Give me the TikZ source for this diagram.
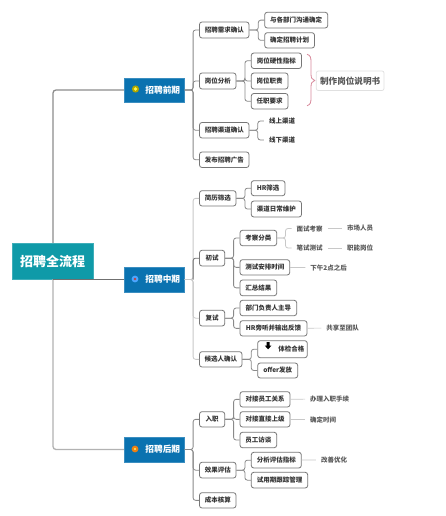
\documentclass[tikz,border=0pt]{standalone}
\usepackage{fontspec}
\setmainfont{Noto Sans CJK SC}
\definecolor{rootc}{HTML}{0F9AA8}
\definecolor{phasec}{HTML}{0A72B0}
\definecolor{linec}{HTML}{8A8A8A}
\definecolor{lightl}{HTML}{C8C8C8}
\definecolor{darkl}{HTML}{707070}
\definecolor{boxb}{HTML}{777777}
\definecolor{braceC}{HTML}{D88A9C}
\tikzset{
  rootbox/.style={fill=rootc,draw=rootc!80!white,line width=.4pt,inner sep=0pt,text=white,font=\fontsize{13}{15}\selectfont\bfseries},
  phasebox/.style={fill=phasec,draw=phasec!80!white,line width=.4pt,inner sep=0pt,text=white,font=\fontsize{8.7}{10}\selectfont\bfseries},
  itembox/.style={draw=boxb,fill=white,line width=.8pt,rounded corners=2.5pt,inner sep=0pt,text=black!80,font=\fontsize{6.5}{8}\selectfont\bfseries},
  notebox/.style={draw=black!12,fill=white,line width=.7pt,rounded corners=2pt,inner sep=0pt,text=black!65,font=\fontsize{8.6}{10}\selectfont\bfseries},
  leaftext/.style={inner xsep=5pt,inner ysep=1pt,text=black!65,font=\fontsize{6.5}{8}\selectfont\bfseries},
  leafdark/.style={leaftext,text=black!80},
  conn/.style={draw=linec,line width=.8pt,rounded corners=2.5pt},
  connlight/.style={conn,draw=lightl},
  conndark/.style={conn,draw=darkl},
  tail/.style={draw=lightl,line width=.7pt},
  trunk/.style={draw=black!45,line width=1.3pt,rounded corners=3pt},
  trunklight/.style={trunk,draw=black!30},
}
\newcommand{\nbx}[7][itembox]{\node[#1,minimum width={(#5-#3)*1pt},minimum height={(#6-#4)*1pt}] (#2) at ({(#3+#5)/2},{(#4+#6)/2}) {#7};}
\newcommand{\brn}[3][conn]{\draw[#1] (#2.east) -- ([xshift=-6pt]#3.west |- #2.east) |- (#3.west);}
\begin{document}
\begin{tikzpicture}[x=1pt,y=-1pt]
\useasboundingbox (0,0) rectangle (445,516);
\fill[white] (0,0) rectangle (445,516);
% root and phases
\nbx[rootbox]{root}{12}{243}{93}{279}{招聘全流程}
\nbx[phasebox]{pa}{124}{78}{184.5}{102}{\hspace{17pt}招聘前期}
\nbx[phasebox]{pb}{124}{267}{184.5}{292}{\hspace{17pt}招聘中期}
\nbx[phasebox]{pc}{124}{437}{184.5}{462}{\hspace{17pt}招聘后期}
\coordinate (sp) at (53,0);
\draw[trunk] (root.north -| sp) |- (pa.west);
\draw[trunklight] (root.south -| sp) |- (pc.west);
\draw[trunk,draw=darkl] (sp |- pb.west) -- (pb.west);
% phase icons
\fill[olive!70!yellow] (135.5,89) circle (3.6);
\fill[yellow!70!white] (135.5,89) circle (1.8);
\fill[blue!50!cyan!70] (135,279) circle (3.4);
\fill[red!50!gray] (135,279) circle (1.3);
\fill[orange!70!brown] (135,449) circle (3.4);
\fill[yellow!60!white] (135,449) circle (1.2);
% level 2, phase A
\nbx{a1}{199.5}{22}{249}{38}{招聘需求确认}
\nbx{a2}{199.5}{73}{236}{89}{岗位分析}
\nbx{a3}{199.5}{122.5}{249}{138}{招聘渠道确认}
\nbx{a4}{199.5}{152}{249}{167.5}{发布招聘广告}
\foreach \c in {a1,a2,a3,a4}{\brn{pa}{\c}}
\nbx{a11}{264.7}{12.3}{327.7}{28}{与各部门沟通确定}
\nbx{a12}{264.7}{32.7}{314.5}{48}{确定招聘计划}
\brn{a1}{a11}\brn{a1}{a12}
\nbx{a21}{251.3}{53}{301.5}{68.5}{岗位硬性指标}
\nbx{a22}{251.3}{73}{288}{89}{岗位职责}
\nbx{a23}{251.3}{93.5}{288}{109}{任职要求}
\brn{a2}{a21}\brn{a2}{a22}\brn{a2}{a23}
\nbx[notebox]{note}{316.3}{71}{384}{90.5}{制作岗位说明书}
\draw[braceC,line width=.8pt] (307,54.3) .. controls (310.5,55) and (311,58) .. (311,62) -- (311,74) .. controls (311,78) and (312,79.5) .. (314.7,80.5) .. controls (312,81.5) and (311,83) .. (311,87) -- (311,98) .. controls (311,102) and (310.5,105) .. (307,105.7);
\node[leafdark] (a31) at (282,121) {线上渠道};
\node[leafdark] (a32) at (282,140) {线下渠道};
\brn{a3}{a31}\brn{a3}{a32}
% phase B
\nbx{b1}{199.5}{190.7}{236}{206}{简历筛选}
\nbx{b2}{199.5}{250.3}{224.7}{266}{初试}
\nbx{b3}{199.5}{310.3}{224.7}{326}{复试}
\nbx{b4}{199.5}{351.7}{242}{367}{候选人确认}
\brn[connlight]{pb}{b1}\brn[connlight]{pb}{b3}\brn[connlight]{pb}{b4}
\draw[conndark] (b2.west) -| ([xshift=-6pt]b2.west |- pb.east);
\nbx{b11}{251.3}{180.7}{285}{195.7}{HR筛选}
\nbx{b12}{251.3}{201}{301.5}{217}{渠道日常维护}
\brn{b1}{b11}\brn{b1}{b12}
\nbx{b21}{240}{230.3}{276.7}{245.7}{考察分类}
\nbx{b22}{240}{259.7}{289.7}{275}{测试安排时间}
\nbx{b23}{240}{280}{276.7}{295.7}{汇总结果}
\brn{b2}{b21}\brn{b2}{b22}\brn{b2}{b23}
\node[leaftext] (b211) at (309.7,228.5) {面试考察};
\node[leaftext] (b212) at (309.7,248) {笔试测试};
\node[leaftext] (b213) at (360,228.5) {市场人员};
\node[leaftext] (b214) at (360,248) {职能岗位};
\brn[connlight]{b21}{b211}\brn[connlight]{b21}{b212}
\draw[tail] (b211) -- (b213);
\draw[tail] (b212) -- (b214);
\node[leaftext] (b221) at (328.7,267.5) {下午2点之后};
\draw[tail] (b22) -- (b221);
\nbx{b31}{240}{300.3}{296.7}{315.7}{部门负责人主导}
\nbx{b32}{240}{320.7}{307}{336}{HR旁听并输出反馈}
\brn{b3}{b31}\brn{b3}{b32}
\node[leaftext] (b321) at (342.7,328) {共享至团队};
\draw[tail] (b32) -- (b321);
\nbx{b41}{257.7}{340.7}{307.3}{357.7}{\hspace{17.6pt}体检合格}
\nbx{b42}{257.7}{363}{297.7}{378}{offer发放}
\brn{b4}{b41}\brn{b4}{b42}
\fill[black] (266.6,342) -- (269.6,342) -- (269.6,345.6) -- (271.4,345.6) -- (268.1,349.4) -- (264.8,345.6) -- (266.6,345.6) -- cycle;
% phase C
\nbx{c1}{199.5}{411.7}{224.7}{427}{入职}
\nbx{c2}{199.5}{462.3}{236}{478}{效果评估}
\nbx{c3}{199.5}{492.7}{236}{508}{成本核算}
\foreach \c in {c1,c2,c3}{\brn{pc}{\c}}
\nbx{c11}{240}{391.7}{290}{407}{对接员工关系}
\nbx{c12}{240}{411.7}{290}{427}{对接直接上级}
\nbx{c13}{240}{432.3}{276.7}{447.7}{员工访谈}
\brn{c1}{c11}\brn{c1}{c12}\brn{c1}{c13}
\node[leaftext] (c111) at (329.7,399) {办理入职手续};
\node[leaftext] (c121) at (323,419.5) {确定时间};
\draw[tail] (c11) -- (c111);
\draw[tail] (c12) -- (c121);
\nbx{c21}{251.3}{452.3}{301.3}{468}{分析评估指标}
\nbx{c22}{251.3}{472.3}{307.7}{488}{试用期跟踪管理}
\brn{c2}{c21}\brn{c2}{c22}
\node[leaftext] (c211) at (334,460) {改善优化};
\draw[tail] (c21) -- (c211);
\end{tikzpicture}
\end{document}
